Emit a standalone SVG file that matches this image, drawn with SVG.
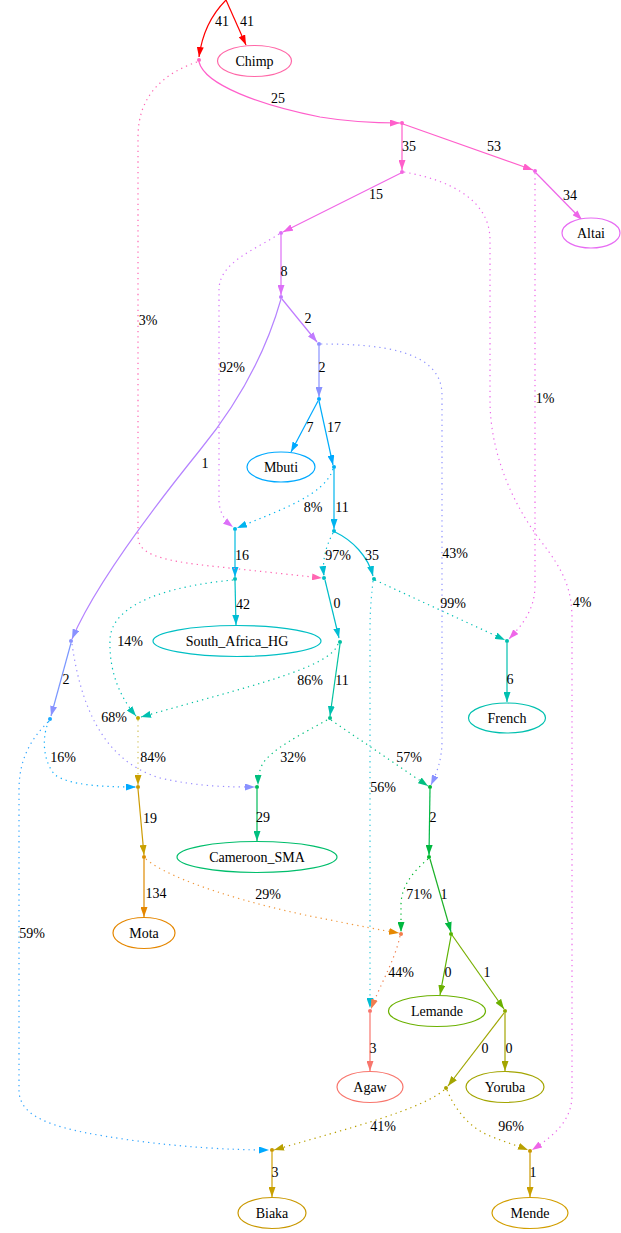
<svg xmlns="http://www.w3.org/2000/svg" width="621" height="1233" viewBox="0 0 621 1233">
<style>
text{font-family:'Liberation Serif','DejaVu Serif',serif;font-size:14px;fill:#000;text-anchor:middle}
.e{fill:none;stroke-width:1.2}
.d{stroke-dasharray:1.3 4}
.n{fill:#fff;stroke-width:1.2}
</style>
<defs>
<marker id="red" viewBox="0 0 10 7" refX="10" refY="3.5" markerWidth="10" markerHeight="7" markerUnits="userSpaceOnUse" orient="auto"><path d="M0,0L10,3.5L0,7z" fill="#FF0000"/></marker>
<marker id="pk" viewBox="0 0 10 7" refX="10" refY="3.5" markerWidth="10" markerHeight="7" markerUnits="userSpaceOnUse" orient="auto"><path d="M0,0L10,3.5L0,7z" fill="#FF5FCB"/></marker>
<marker id="pk2" viewBox="0 0 10 7" refX="10" refY="3.5" markerWidth="10" markerHeight="7" markerUnits="userSpaceOnUse" orient="auto"><path d="M0,0L10,3.5L0,7z" fill="#FF66B2"/></marker>
<marker id="mg" viewBox="0 0 10 7" refX="10" refY="3.5" markerWidth="10" markerHeight="7" markerUnits="userSpaceOnUse" orient="auto"><path d="M0,0L10,3.5L0,7z" fill="#EE65E8"/></marker>
<marker id="pu1" viewBox="0 0 10 7" refX="10" refY="3.5" markerWidth="10" markerHeight="7" markerUnits="userSpaceOnUse" orient="auto"><path d="M0,0L10,3.5L0,7z" fill="#DC70F8"/></marker>
<marker id="pu2" viewBox="0 0 10 7" refX="10" refY="3.5" markerWidth="10" markerHeight="7" markerUnits="userSpaceOnUse" orient="auto"><path d="M0,0L10,3.5L0,7z" fill="#C07BFF"/></marker>
<marker id="bl1" viewBox="0 0 10 7" refX="10" refY="3.5" markerWidth="10" markerHeight="7" markerUnits="userSpaceOnUse" orient="auto"><path d="M0,0L10,3.5L0,7z" fill="#8A92FF"/></marker>
<marker id="az" viewBox="0 0 10 7" refX="10" refY="3.5" markerWidth="10" markerHeight="7" markerUnits="userSpaceOnUse" orient="auto"><path d="M0,0L10,3.5L0,7z" fill="#00A9FF"/></marker>
<marker id="cy1" viewBox="0 0 10 7" refX="10" refY="3.5" markerWidth="10" markerHeight="7" markerUnits="userSpaceOnUse" orient="auto"><path d="M0,0L10,3.5L0,7z" fill="#00B4EF"/></marker>
<marker id="cy2" viewBox="0 0 10 7" refX="10" refY="3.5" markerWidth="10" markerHeight="7" markerUnits="userSpaceOnUse" orient="auto"><path d="M0,0L10,3.5L0,7z" fill="#00BDD4"/></marker>
<marker id="tl" viewBox="0 0 10 7" refX="10" refY="3.5" markerWidth="10" markerHeight="7" markerUnits="userSpaceOnUse" orient="auto"><path d="M0,0L10,3.5L0,7z" fill="#00C0B0"/></marker>
<marker id="gr1" viewBox="0 0 10 7" refX="10" refY="3.5" markerWidth="10" markerHeight="7" markerUnits="userSpaceOnUse" orient="auto"><path d="M0,0L10,3.5L0,7z" fill="#00BF80"/></marker>
<marker id="gr2" viewBox="0 0 10 7" refX="10" refY="3.5" markerWidth="10" markerHeight="7" markerUnits="userSpaceOnUse" orient="auto"><path d="M0,0L10,3.5L0,7z" fill="#00B840"/></marker>
<marker id="lg" viewBox="0 0 10 7" refX="10" refY="3.5" markerWidth="10" markerHeight="7" markerUnits="userSpaceOnUse" orient="auto"><path d="M0,0L10,3.5L0,7z" fill="#6BB100"/></marker>
<marker id="ol" viewBox="0 0 10 7" refX="10" refY="3.5" markerWidth="10" markerHeight="7" markerUnits="userSpaceOnUse" orient="auto"><path d="M0,0L10,3.5L0,7z" fill="#A3A500"/></marker>
<marker id="ol2" viewBox="0 0 10 7" refX="10" refY="3.5" markerWidth="10" markerHeight="7" markerUnits="userSpaceOnUse" orient="auto"><path d="M0,0L10,3.5L0,7z" fill="#B8A000"/></marker>
<marker id="ye" viewBox="0 0 10 7" refX="10" refY="3.5" markerWidth="10" markerHeight="7" markerUnits="userSpaceOnUse" orient="auto"><path d="M0,0L10,3.5L0,7z" fill="#C9A000"/></marker>
<marker id="or" viewBox="0 0 10 7" refX="10" refY="3.5" markerWidth="10" markerHeight="7" markerUnits="userSpaceOnUse" orient="auto"><path d="M0,0L10,3.5L0,7z" fill="#E58700"/></marker>
<marker id="or2" viewBox="0 0 10 7" refX="10" refY="3.5" markerWidth="10" markerHeight="7" markerUnits="userSpaceOnUse" orient="auto"><path d="M0,0L10,3.5L0,7z" fill="#F07D50"/></marker>
<marker id="sa" viewBox="0 0 10 7" refX="10" refY="3.5" markerWidth="10" markerHeight="7" markerUnits="userSpaceOnUse" orient="auto"><path d="M0,0L10,3.5L0,7z" fill="#F8766D"/></marker>
</defs>
<rect width="621" height="1233" fill="#fff"/>
<g id="connectors">
<path class="e" stroke="#FF0000" marker-end="url(#red)" d="M226,0 C212,14 202,34 199,57"/>
<path class="e" stroke="#FF0000" marker-end="url(#red)" d="M226,0 L246,45"/>
<path class="e" stroke="#FF5FCB" marker-end="url(#pk)" d="M199,62 C205,85 260,105 320,117 C350,122 372,123 400,123"/>
<path class="e" stroke="#FF5FCB" marker-end="url(#pk)" d="M402,124 L402,170"/>
<path class="e" stroke="#FF5FCB" marker-end="url(#pk)" d="M403,124 L533,170"/>
<path class="e" stroke="#EE65E8" marker-end="url(#mg)" d="M536,173 L582,220"/>
<path class="e" stroke="#F066E6" marker-end="url(#mg)" d="M401,173 L283,232"/>
<path class="e" stroke="#DE6EF5" marker-end="url(#pu1)" d="M281,235 L281,295"/>
<path class="e" stroke="#C07BFF" marker-end="url(#pu2)" d="M282,299 L317,342"/>
<path class="e" stroke="#B583FF" marker-end="url(#bl1)" d="M281,299 C268,345 245,395 200,450 C150,512 95,585 72,639"/>
<path class="e" stroke="#8891FF" marker-end="url(#bl1)" d="M319,346 L319,397"/>
<path class="e" stroke="#00A9FF" marker-end="url(#az)" d="M318,401 L291,452"/>
<path class="e" stroke="#00ADFA" marker-end="url(#az)" d="M319,401 L333,465"/>
<path class="e d" stroke="#00B4F0" marker-end="url(#cy1)" d="M333,469 C325,495 280,510 237,528"/>
<path class="e" stroke="#00B5EE" marker-end="url(#cy1)" d="M334,469 L334,529"/>
<path class="e d" stroke="#D875FA" marker-end="url(#pu1)" d="M279,234 C255,250 219,262 219,290 L219,500 C219,512 225,521 233,527"/>
<path class="e" stroke="#00BBE0" marker-end="url(#cy1)" d="M235,531 L235,577"/>
<path class="e d" stroke="#00BDD6" marker-end="url(#cy2)" d="M333,533 C326,546 322,560 324,576"/>
<path class="e" stroke="#00BDD6" marker-end="url(#cy2)" d="M335,532 C352,540 368,556 373,576"/>
<path class="e d" stroke="#FF66B2" marker-end="url(#pk2)" d="M197,62 C168,72 138,92 138,137 L138,535 C138,552 150,560 220,567 L322,578"/>
<path class="e" stroke="#00C0C6" marker-end="url(#cy2)" d="M235,581 L236,625"/>
<path class="e" stroke="#00BDC8" marker-end="url(#cy2)" d="M325,580 L339,638"/>
<path class="e d" stroke="#00C0B4" marker-end="url(#tl)" d="M375,580 L505,640"/>
<path class="e d" stroke="#30C8DA" marker-end="url(#cy2)" d="M373,581 C371,600 370,612 370,630 L370,1008"/>
<path class="e d" stroke="#00C0B8" marker-end="url(#tl)" d="M233,580 C180,585 111,600 110,640 C109,672 120,697 136,716"/>
<path class="e d" stroke="#00C2A0" marker-end="url(#tl)" d="M338,644 C330,668 250,686 141,717"/>
<path class="e" stroke="#00C1A0" marker-end="url(#tl)" d="M340,644 L330,716"/>
<path class="e" stroke="#7A97FF" marker-end="url(#bl1)" d="M71,643 L51,716"/>
<path class="e d" stroke="#9A8DFF" marker-end="url(#bl1)" d="M72,644 C80,700 100,760 160,778 C200,787 230,787 255,787"/>
<path class="e d" stroke="#10AEFA" marker-end="url(#az)" d="M49,721 C42,735 42,760 55,775 C70,785 100,787 136,787"/>
<path class="e d" stroke="#33A6FF" marker-end="url(#az)" d="M48,722 C30,740 19,760 19,790 L19,1090 C19,1120 60,1130 130,1140 C180,1147 230,1150 269,1150"/>
<path class="e d" stroke="#D4C460" marker-end="url(#ye)" d="M138,720 L138,785"/>
<path class="e" stroke="#CC9A00" marker-end="url(#ye)" d="M138,789 L144,855"/>
<path class="e" stroke="#E08A00" marker-end="url(#or)" d="M144,859 L144,917"/>
<path class="e d" stroke="#F09A40" marker-end="url(#or)" d="M146,859 C170,880 250,905 330,920 C360,926 380,930 399,933"/>
<path class="e" stroke="#00BB5A" marker-end="url(#gr1)" d="M257,789 L257,841"/>
<path class="e d" stroke="#8F93FF" marker-end="url(#bl1)" d="M321,344 C380,344 442,350 442,395 L442,740 C442,760 437,772 431,785"/>
<path class="e d" stroke="#00C07D" marker-end="url(#gr1)" d="M327,720 C300,735 270,750 262,765 C259,772 258,778 258,785"/>
<path class="e d" stroke="#00C08A" marker-end="url(#gr1)" d="M331,720 L428,786"/>
<path class="e" stroke="#00B845" marker-end="url(#gr2)" d="M430,789 L429,855"/>
<path class="e d" stroke="#00B830" marker-end="url(#gr2)" d="M428,859 C415,870 401,885 401,905 L401,932"/>
<path class="e" stroke="#1BB128" marker-end="url(#gr2)" d="M430,859 L451,932"/>
<path class="e d" stroke="#F08050" marker-end="url(#or2)" d="M400,936 C395,960 380,985 371,1009"/>
<path class="e" stroke="#F8766D" marker-end="url(#sa)" d="M370,1013 L370,1071"/>
<path class="e" stroke="#5DB300" marker-end="url(#lg)" d="M451,936 L440,995"/>
<path class="e" stroke="#78AF00" marker-end="url(#lg)" d="M452,935 L504,1009"/>
<path class="e" stroke="#A3A500" marker-end="url(#ol)" d="M505,1013 L505,1071"/>
<path class="e" stroke="#A0A600" marker-end="url(#ol)" d="M504,1013 L448,1086"/>
<path class="e d" stroke="#B8A000" marker-end="url(#ol2)" d="M444,1090 C420,1110 350,1128 274,1150"/>
<path class="e d" stroke="#B8A000" marker-end="url(#ol2)" d="M447,1090 C455,1110 470,1128 490,1136 C505,1142 518,1146 528,1150"/>
<path class="e" stroke="#CC9A00" marker-end="url(#ye)" d="M530,1153 L530,1197"/>
<path class="e" stroke="#D0A000" marker-end="url(#ye)" d="M272,1152 L272,1197"/>
<path class="e d" stroke="#EB6AEA" marker-end="url(#mg)" d="M404,172 C450,180 490,200 490,240 L490,400 C490,450 510,500 540,540 C565,572 572,590 572,620 L572,1095 C572,1120 555,1135 532,1150"/>
<path class="e d" stroke="#F064E8" marker-end="url(#mg)" d="M535,173 L535,585 C535,610 522,625 509,639"/>
<path class="e" stroke="#00C0AF" marker-end="url(#tl)" d="M507,643 L507,702"/>
</g>
<g id="edge-labels">
<text x="222" y="26">41</text>
<text x="247" y="26">41</text>
<text x="278" y="103">25</text>
<text x="409" y="151">35</text>
<text x="494" y="151">53</text>
<text x="570" y="200">34</text>
<text x="376" y="199">15</text>
<text x="284" y="276">8</text>
<text x="308" y="323">2</text>
<text x="148" y="325">3%</text>
<text x="232" y="372">92%</text>
<text x="322" y="372">2</text>
<text x="545" y="403">1%</text>
<text x="310" y="432">7</text>
<text x="334" y="432">17</text>
<text x="205" y="468">1</text>
<text x="313" y="512">8%</text>
<text x="342" y="512">11</text>
<text x="455" y="558">43%</text>
<text x="242" y="560">16</text>
<text x="338" y="560">97%</text>
<text x="372" y="560">35</text>
<text x="453" y="608">99%</text>
<text x="582" y="607">4%</text>
<text x="243" y="609">42</text>
<text x="337" y="608">0</text>
<text x="130" y="646">14%</text>
<text x="66" y="684">2</text>
<text x="310" y="685">86%</text>
<text x="342" y="685">11</text>
<text x="510" y="684">6</text>
<text x="114" y="722">68%</text>
<text x="63" y="762">16%</text>
<text x="153" y="762">84%</text>
<text x="293" y="762">32%</text>
<text x="409" y="762">57%</text>
<text x="383" y="792">56%</text>
<text x="150" y="823">19</text>
<text x="263" y="822">29</text>
<text x="433" y="822">2</text>
<text x="156" y="898">134</text>
<text x="268" y="899">29%</text>
<text x="419" y="899">71%</text>
<text x="444" y="899">1</text>
<text x="32" y="938">59%</text>
<text x="401" y="977">44%</text>
<text x="448" y="977">0</text>
<text x="487" y="977">1</text>
<text x="373" y="1053">3</text>
<text x="485" y="1053">0</text>
<text x="509" y="1053">0</text>
<text x="383" y="1131">41%</text>
<text x="511" y="1131">96%</text>
<text x="275" y="1177">3</text>
<text x="533" y="1177">1</text>
</g>
<g id="node-A"><circle cx="199" cy="60" r="2" fill="#FF66C0"/></g>
<g id="node-B"><circle cx="402" cy="123" r="2" fill="#FF5FCB"/></g>
<g id="node-C"><circle cx="402" cy="172" r="2" fill="#F366E0"/></g>
<g id="node-D"><circle cx="535" cy="171" r="2" fill="#F064E8"/></g>
<g id="node-E"><circle cx="281" cy="233" r="2" fill="#DC70F8"/></g>
<g id="node-F"><circle cx="281" cy="297" r="2" fill="#C07BFF"/></g>
<g id="node-G"><circle cx="319" cy="344" r="2" fill="#8F91FF"/></g>
<g id="node-H"><circle cx="71" cy="641" r="2" fill="#8A92FF"/></g>
<g id="node-I"><circle cx="319" cy="399" r="2" fill="#00A9FF"/></g>
<g id="node-J"><circle cx="334" cy="467" r="2" fill="#00B0F6"/></g>
<g id="node-K"><circle cx="235" cy="529" r="2" fill="#00B8E5"/></g>
<g id="node-L"><circle cx="334" cy="531" r="2" fill="#00BBDB"/></g>
<g id="node-M"><circle cx="324" cy="578" r="2" fill="#00BFC4"/></g>
<g id="node-N"><circle cx="374" cy="579" r="2" fill="#00C0B8"/></g>
<g id="node-O"><circle cx="235" cy="579" r="2" fill="#00C0BB"/></g>
<g id="node-P"><circle cx="138" cy="718" r="2" fill="#BFA800"/></g>
<g id="node-Q"><circle cx="340" cy="642" r="2" fill="#00C1A3"/></g>
<g id="node-R"><circle cx="330" cy="718" r="2" fill="#00C08B"/></g>
<g id="node-S"><circle cx="507" cy="641" r="2" fill="#00C0AF"/></g>
<g id="node-T"><circle cx="370" cy="1011" r="2" fill="#F8766D"/></g>
<g id="node-U"><circle cx="430" cy="787" r="2" fill="#00BA38"/></g>
<g id="node-V"><circle cx="257" cy="787" r="2" fill="#00BB5A"/></g>
<g id="node-W"><circle cx="50" cy="719" r="2" fill="#1AA9FF"/></g>
<g id="node-X"><circle cx="138" cy="787" r="2" fill="#C99800"/></g>
<g id="node-Y"><circle cx="272" cy="1150" r="2" fill="#C99800"/></g>
<g id="node-Z"><circle cx="144" cy="857" r="2" fill="#DB8E00"/></g>
<g id="node-AA"><circle cx="401" cy="934" r="2" fill="#F47D4B"/></g>
<g id="node-AB"><circle cx="429" cy="857" r="2" fill="#00B82A"/></g>
<g id="node-AC"><circle cx="451" cy="934" r="2" fill="#53B400"/></g>
<g id="node-AD"><circle cx="505" cy="1011" r="2" fill="#8FAA00"/></g>
<g id="node-AE"><circle cx="446" cy="1088" r="2" fill="#ABA300"/></g>
<g id="node-AF"><circle cx="530" cy="1151" r="2" fill="#C99800"/></g>
<g id="node-Chimp"><ellipse class="n" cx="254.5" cy="61" rx="37" ry="15.5" stroke="#FF68A8"/><text x="254.5" y="66">Chimp</text></g>
<g id="node-Altai"><ellipse class="n" cx="591" cy="233" rx="29" ry="15" stroke="#E76BF3"/><text x="591" y="238">Altai</text></g>
<g id="node-Mbuti"><ellipse class="n" cx="281" cy="467" rx="34" ry="15" stroke="#00A9FF"/><text x="281" y="472">Mbuti</text></g>
<g id="node-South_Africa_HG"><ellipse class="n" cx="237" cy="641" rx="84" ry="15.5" stroke="#00BFC4"/><text x="237" y="646">South_Africa_HG</text></g>
<g id="node-French"><ellipse class="n" cx="507" cy="718" rx="38.5" ry="15" stroke="#00C0AF"/><text x="507" y="723">French</text></g>
<g id="node-Cameroon_SMA"><ellipse class="n" cx="257" cy="857" rx="80" ry="15.5" stroke="#00BE6C"/><text x="257" y="862">Cameroon_SMA</text></g>
<g id="node-Mota"><ellipse class="n" cx="144" cy="933" rx="31" ry="15.5" stroke="#E58700"/><text x="144" y="938">Mota</text></g>
<g id="node-Lemande"><ellipse class="n" cx="437" cy="1011" rx="48.5" ry="15.5" stroke="#6BB100"/><text x="437" y="1016">Lemande</text></g>
<g id="node-Agaw"><ellipse class="n" cx="370" cy="1087" rx="33" ry="15.5" stroke="#F8766D"/><text x="370" y="1092">Agaw</text></g>
<g id="node-Yoruba"><ellipse class="n" cx="505" cy="1087" rx="39" ry="15.5" stroke="#A3A500"/><text x="505" y="1092">Yoruba</text></g>
<g id="node-Biaka"><ellipse class="n" cx="272" cy="1213" rx="34" ry="15.5" stroke="#C99800"/><text x="272" y="1218">Biaka</text></g>
<g id="node-Mende"><ellipse class="n" cx="530" cy="1213" rx="38" ry="15.5" stroke="#D29E00"/><text x="530" y="1218">Mende</text></g>
</svg>
